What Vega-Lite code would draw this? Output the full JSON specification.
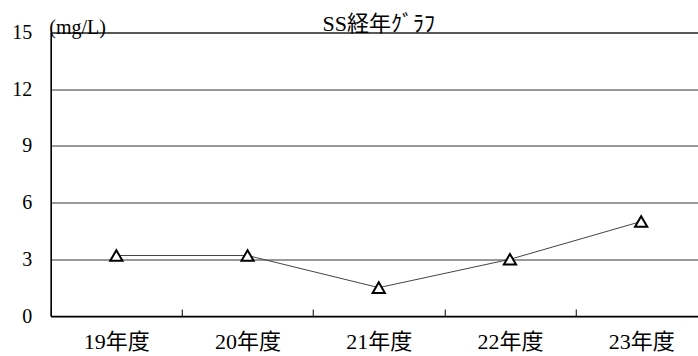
{
  "$schema": "https://vega.github.io/schema/vega-lite/v6.json",
  "width": 656,
  "height": 283.5,
  "autosize": {"type": "none"},
  "padding": {"left": 50.75, "top": 32.5, "right": 0, "bottom": 40},
  "background": "white",
  "config": {
    "view": {"stroke": "black", "strokeWidth": 1},
    "font": "Liberation Serif, Noto Sans CJK JP"
  },
  "title": {
    "text": "SS経年ｸﾞﾗﾌ",
    "frame": "group",
    "anchor": "middle",
    "offset": -35,
    "baseline": "alphabetic",
    "fontSize": 22,
    "fontWeight": "normal",
    "font": "Liberation Serif, Noto Sans CJK JP",
    "color": "black"
  },
  "data": {
    "values": [
      {"year": "19年度", "value": 3.2},
      {"year": "20年度", "value": 3.2},
      {"year": "21年度", "value": 1.5},
      {"year": "22年度", "value": 3.0},
      {"year": "23年度", "value": 5.0}
    ]
  },
  "encoding": {
    "x": {
      "field": "year",
      "type": "ordinal",
      "sort": null,
      "scale": {"paddingInner": 0, "paddingOuter": 0},
      "axis": {
        "title": null,
        "labelAngle": 0,
        "labelFontSize": 22,
        "labelColor": "black",
        "labelFont": "Liberation Serif, Noto Sans CJK JP",
        "labelPadding": 22,
        "tickBand": "extent",
        "tickSize": -7,
        "tickColor": "black",
        "domainColor": "black",
        "domainWidth": 1.5
      }
    },
    "y": {
      "field": "value",
      "type": "quantitative",
      "scale": {"domain": [0, 15], "nice": false},
      "axis": {
        "values": [0, 3, 6, 9, 12, 15],
        "title": "(mg/L)",
        "titleAngle": 0,
        "titleAlign": "left",
        "titleBaseline": "alphabetic",
        "titleX": -2,
        "titleY": 1,
        "titleFontSize": 20,
        "titleFontWeight": "normal",
        "titleFont": "Liberation Serif, Noto Sans CJK JP",
        "titleColor": "black",
        "labelFontSize": 20,
        "labelColor": "black",
        "labelFont": "Liberation Serif, Noto Sans CJK JP",
        "labelPadding": 19,
        "ticks": false,
        "grid": true,
        "gridColor": "#333333",
        "gridWidth": 1,
        "domainColor": "black",
        "domainWidth": 1.5
      }
    }
  },
  "layer": [
    {"mark": {"type": "line", "color": "#444444", "strokeWidth": 1}},
    {"mark": {"type": "point", "shape": "triangle-up", "size": 150, "filled": true, "fill": "white", "stroke": "black", "strokeWidth": 2, "opacity": 1}}
  ]
}
